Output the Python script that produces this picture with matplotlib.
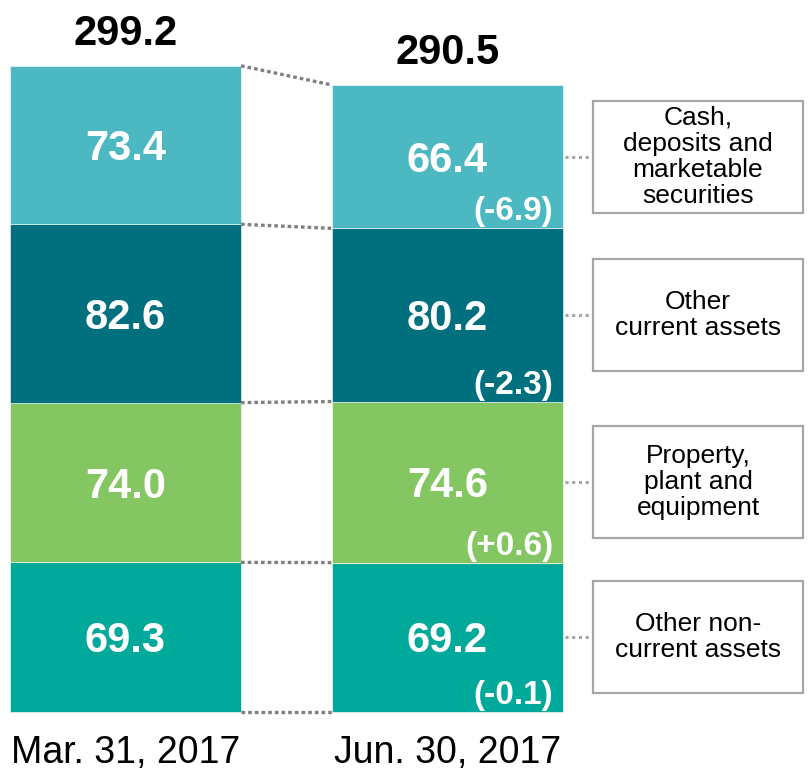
import matplotlib
matplotlib.use("Agg")
import matplotlib.pyplot as plt
from matplotlib.patches import Rectangle

# === DATA ===
dates = ["Mar. 31, 2017", "Jun. 30, 2017"]
# bottom -> top
categories = ["Other non-\ncurrent assets", "Property,\nplant and\nequipment",
              "Other\ncurrent assets", "Cash,\ndeposits and\nmarketable\nsecurities"]
mar_values = [69.3, 74.0, 82.6, 73.4]
jun_values = [69.2, 74.6, 80.2, 66.4]
changes = ["(-0.1)", "(+0.6)", "(-2.3)", "(-6.9)"]
totals = ["299.2", "290.5"]
colors = ["#00A99A", "#84C661", "#006F7E", "#4BB8C2"]

plt.rcParams['font.family'] = ['Liberation Sans', 'DejaVu Sans']

fig = plt.figure(figsize=(8.08, 7.71), dpi=100)
ax = fig.add_axes([0, 0, 1, 1])
ax.set_xlim(-0.38975, 2.11957)
ax.set_ylim(-27.33, 329.78)
ax.axis('off')

width = 0.7174
half = width / 2

# === STACKED BARS ===
for i, vals in enumerate([mar_values, jun_values]):
    bottom = 0
    for j, v in enumerate(vals):
        ax.bar(i, v, width, bottom=bottom, color=colors[j], edgecolor='white', linewidth=0.4)
        ax.text(i, bottom + v / 2 - 7, f"{v:.1f}", color='white', fontsize=30,
                fontweight='bold', ha='center', va='baseline')
        if i == 1:
            ax.text(i + half - 0.031, bottom + 3.7, changes[j], color='white', fontsize=24,
                    fontweight='bold', ha='right', va='baseline')
        bottom += v
    ax.text(i, bottom + 9.7, totals[i], fontsize=30, fontweight='bold', ha='center', va='baseline')
    ax.text(i, -23.6, dates[i], fontsize=27, ha='center', va='baseline')

# === CONNECTORS BETWEEN BARS ===
left_cum = [0]
right_cum = [0]
for a, b in zip(mar_values, jun_values):
    left_cum.append(left_cum[-1] + a)
    right_cum.append(right_cum[-1] + b)
for y0, y1 in zip(left_cum, right_cum):
    ax.plot([half, 1 - half], [y0, y1], color='#808080', lw=2.4,
            linestyle=(0, (1.1, 0.9)), solid_capstyle='butt', dash_capstyle='butt')

# === LABEL BOXES ===
box_x0, box_x1 = 1.452, 2.104
box_h = 51.9
for j, cat in enumerate(categories):
    mid = right_cum[j] + jun_values[j] / 2
    ax.add_patch(Rectangle((box_x0, mid - box_h / 2), box_x1 - box_x0, box_h,
                           facecolor='white', edgecolor='#A6A6A6', lw=1.6))
    ax.plot([1 + half + 0.006, box_x0], [mid, mid], color='#A6A6A6', lw=2.2,
            linestyle=(0, (1.0, 1.2)), dash_capstyle='butt')
    ax.text((box_x0 + box_x1) / 2, mid, cat, fontsize=19, ha='center', va='center',
            linespacing=1.1)

fig.savefig("out.png", dpi=100)
